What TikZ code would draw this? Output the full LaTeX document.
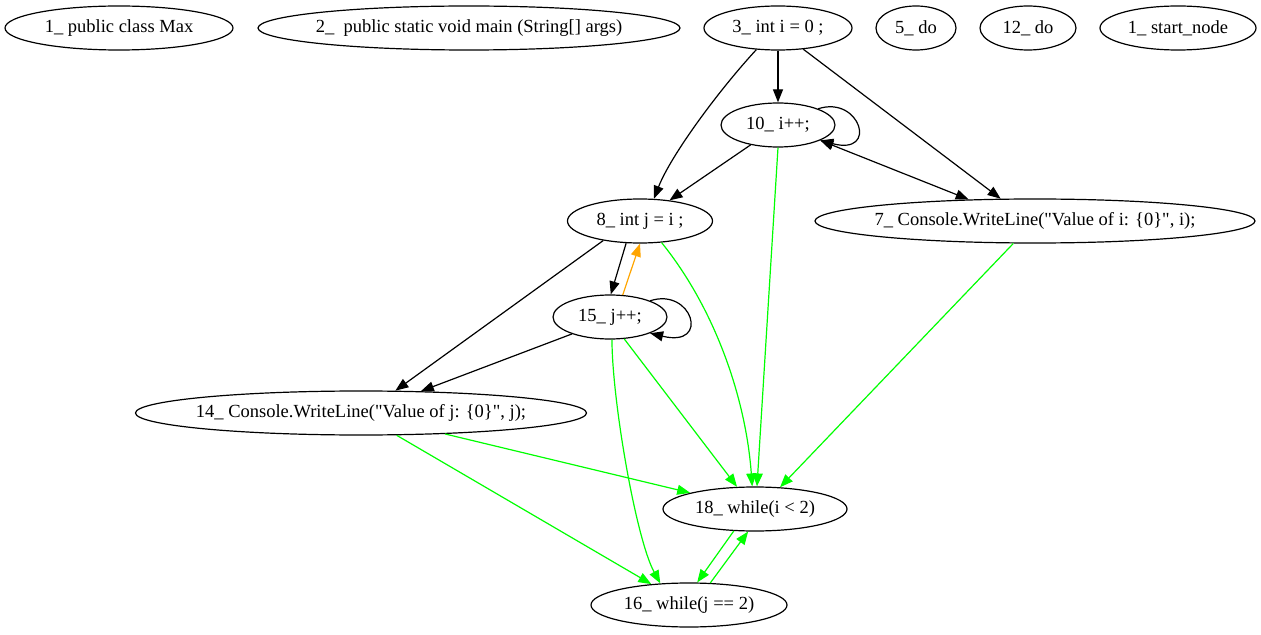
\documentclass[tikz,border=0pt]{standalone}
\usepackage{fontspec}
\setmainfont{Liberation Serif}[Ligatures=TeXOff]
\usetikzlibrary{arrows.meta,shapes.geometric}
\definecolor{grn}{RGB}{0,255,0}
\definecolor{org}{RGB}{255,165,0}
\newcommand{\ntext}[1]{\makebox[0pt]{#1}}
\begin{document}
\begin{tikzpicture}[x=1bp,y=-1bp,
  st/.style={draw, ellipse, inner sep=0pt, minimum height=44bp, line width=1.2bp,
             font=\fontsize{18.5bp}{21bp}\selectfont},
  edge/.style={line width=1.2bp, -{Triangle[length=13bp,width=10bp]}},
  bothedge/.style={line width=1.2bp, {Triangle[length=13bp,width=10bp]}-{Triangle[length=13bp,width=10bp]}},
  gedge/.style={edge, draw=grn},
  oedge/.style={edge, draw=org}]
\useasboundingbox (0,0) rectangle (1261,635);

% statements
\node[st, minimum width=228bp] (n1)  at (119,28)  {\ntext{1\_ public class Max}};
\node[st, minimum width=422bp] (n2)  at (469,28)  {\ntext{2\_\ \ public static void main (String[] args)}};
\node[st, minimum width=148bp] (n3)  at (778,28)  {\ntext{3\_ int i = 0 ;}};
\node[st, minimum width=80bp]  (n5)  at (916,28)  {\ntext{5\_ do}};
\node[st, minimum width=96bp]  (n12) at (1028,28) {\ntext{12\_ do}};
\node[st, minimum width=156bp] (ns)  at (1178,28) {\ntext{1\_ start\_node}};
\node[st, minimum width=114bp] (n10) at (778,125) {\ntext{10\_ i++;}};
\node[st, minimum width=145bp] (n8)  at (640,221) {\ntext{8\_ int j = i ;}};
\node[st, minimum width=440bp] (n7)  at (1035,221) {\ntext{7\_ Console.WriteLine("Value of i: \{0\}", i);}};
\node[st, minimum width=114bp] (n15) at (610,317) {\ntext{15\_ j++;}};
\node[st, minimum width=451bp] (n14) at (361,413) {\ntext{14\_ Console.WriteLine("Value of j: \{0\}", j);}};
\node[st, minimum width=184bp] (n18) at (755,509) {\ntext{18\_ while(i < 2)}};
\node[st, minimum width=196bp] (n16) at (689,605) {\ntext{16\_ while(j == 2)}};

% control flow
\draw[edge] (n3.-90) -- (n10.90);
\draw[edge] (n3.-135) .. controls (719,90) and (671,155) .. (n8.58);
\draw[edge] (n3.-40) -- (n7.147);
\draw[edge] (n10.22) .. controls (860,95) and (879,156) .. (n10.-20);
\draw[edge] (n10.-144) -- (n8.35);
\draw[bothedge] (n10.-20) -- (n7.162);
\draw[edge] (n8.-122) -- (n15.88);
\draw[oedge] (n15.60) -- (n8.-90);
\draw[edge] (n15.22) .. controls (692,287) and (711,348) .. (n15.-22);
\draw[edge] (n8.-152) -- (n14.33);
\draw[edge] (n15.-156) -- (n14.20);

% loop conditions
\draw[gedge] (n10.-90) -- (n18.85);
\draw[gedge] (n8.-45) .. controls (716,310) and (746,400) .. (n18.97);
\draw[gedge] (n7.-134) -- (n18.41);
\draw[gedge] (n15.-57) -- (n18.129);
\draw[gedge] (n15.-85) .. controls (612,400) and (636,539) .. (n16.143);
\draw[gedge] (n14.-14) -- (n18.166);
\draw[gedge] (n14.-32) -- (n16.151);
\draw[gedge] (n18.-134) -- (n16.70);
\draw[gedge] (n16.46) -- (n18.-107);
\end{tikzpicture}
\end{document}
